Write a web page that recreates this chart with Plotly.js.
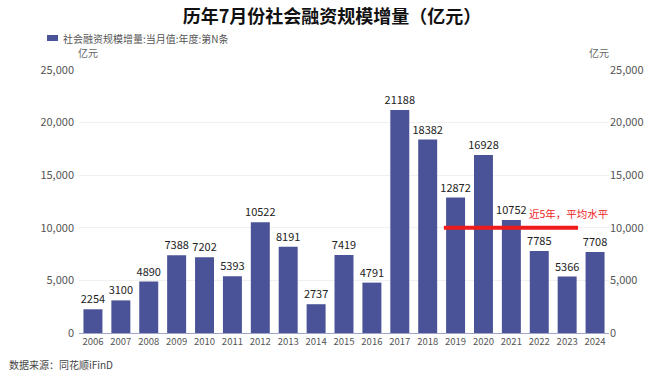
<!DOCTYPE html>
<html><head><meta charset="utf-8">
<script src="https://cdn.plot.ly/plotly-3.0.1.min.js"></script>
<style>body{margin:0;background:#fff}#c{width:660px;height:379px}</style>
</head><body><div id="c"></div>
<script>
const years = ['2006','2007','2008','2009','2010','2011','2012','2013','2014','2015','2016','2017','2018','2019','2020','2021','2022','2023','2024'];
const values = [2254,3100,4890,7388,7202,5393,10522,8191,2737,7419,4791,21188,18382,12872,16928,10752,7785,5366,7708];
const seriesName = '社会融资规模增量:当月值:年度:第N条';
const avgLevel = 10000;
const avgStart = '2019', avgEnd = '2023';
const yTicks = [0,5000,10000,15000,20000,25000];
const yTickText = ['0','5,000','10,000','15,000','20,000','25,000'];

const F = '"Noto Sans CJK SC", "Noto Sans", sans-serif';
const W = 660, H = 379, ML = 79, MR = 51, MT = 70, MB = 46;
const pw = W - ML - MR, ph = H - MT - MB;
const px = x => (x - ML) / pw, py = y => (H - MB - y) / ph;
const barColor = '#4a5398';

const traces = [
  {type:'bar', x:years, y:values, name:seriesName, marker:{color:barColor},
   width:0.68, text:values.map(String), textposition:'outside', cliponaxis:false, constraintext:'none',
   textfont:{family:F, size:11, color:'#222'}, hoverinfo:'skip', showlegend:false},
  {type:'scatter', x:[years[0]], y:[null], yaxis:'y2', showlegend:false, hoverinfo:'skip'}
];
const i0 = years.indexOf(avgStart), i1 = years.indexOf(avgEnd);
const layout = {
  width:W, height:H,
  margin:{l:ML, r:MR, t:MT, b:MB},
  paper_bgcolor:'#fff', plot_bgcolor:'#fff',
  font:{family:F, color:'#555'},
  title:{text:'<b>历年7月份社会融资规模增量（亿元）</b>', xref:'paper', x:px(332), xanchor:'center', y:1-17/H, yanchor:'middle',
         font:{family:F, size:18, color:'#111'}},
  showlegend:false,
  xaxis:{type:'category', range:[-0.5, years.length-0.5], tickfont:{family:F, size:9.5, color:'#555'}, ticks:'',
         showline:true, linecolor:'#a0a6c8', linewidth:1, showgrid:false, fixedrange:true},
  yaxis:{range:[0,25000], tickvals:yTicks, ticktext:yTickText, tickfont:{family:F, size:11, color:'#555'},
         showgrid:true, gridcolor:'#f0f0f0', zeroline:false, ticks:'', ticklabelstandoff:4},
  yaxis2:{range:[0,25000], overlaying:'y', side:'right', tickvals:yTicks, ticktext:yTickText,
          tickfont:{family:F, size:11, color:'#555'}, showgrid:false, zeroline:false, ticks:''},
  shapes:[
    {type:'line', xref:'x', yref:'y', x0:i0-0.42, x1:i1+0.39, y0:avgLevel, y1:avgLevel,
     line:{color:'#ee1c1c', width:4}},
    {type:'rect', xref:'paper', yref:'paper', x0:px(47), x1:px(58), y0:py(41), y1:py(35),
     fillcolor:barColor, line:{width:0}}
  ],
  annotations:[
    {text:seriesName, xref:'paper', yref:'paper', x:px(61), y:py(38), xanchor:'left', yanchor:'middle',
     showarrow:false, font:{family:F, size:10, color:'#555'}},
    {text:'近5年，平均水平', xref:'x', yref:'y', x:15.55, y:11400, xanchor:'left', yanchor:'middle',
     showarrow:false, font:{family:F, size:10.5, color:'#ee1c1c'}},
    {text:'亿元', xref:'paper', yref:'paper', x:px(88), y:py(52), xanchor:'center', yanchor:'middle',
     showarrow:false, font:{family:F, size:10, color:'#666'}},
    {text:'亿元', xref:'paper', yref:'paper', x:px(599), y:py(52), xanchor:'center', yanchor:'middle',
     showarrow:false, font:{family:F, size:10, color:'#666'}},
    {text:'数据来源：同花顺iFinD', xref:'paper', yref:'paper', x:px(7), y:py(364), xanchor:'left', yanchor:'middle',
     showarrow:false, font:{family:F, size:10, color:'#444'}}
  ]
};
Plotly.newPlot('c', traces, layout, {displayModeBar:false, staticPlot:true});
</script></body></html>
